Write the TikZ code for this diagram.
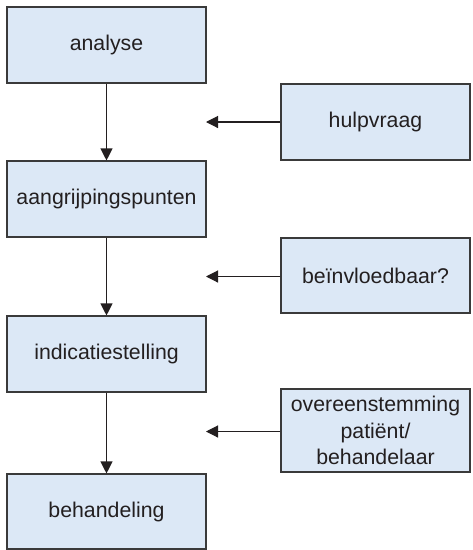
\documentclass[tikz,border=0pt]{standalone}
\usepackage{fontspec}
\setmainfont{Liberation Sans}
\usetikzlibrary{arrows.meta}
\definecolor{boxfill}{HTML}{DCE8F6}
\definecolor{boxline}{HTML}{3A3A3A}
\definecolor{txt}{HTML}{231F20}
\begin{document}
\begin{tikzpicture}[x=1pt,y=-1pt,
  box/.style={draw=boxline, fill=boxfill, line width=1.1pt, inner sep=0pt, text=txt,
    font=\fontsize{21.3}{26.5}\selectfont, align=center},
  lbox/.style={box, minimum width=199pt, minimum height=76pt},
  rbox/.style={box, minimum width=189pt, minimum height=76pt},
  conn/.style={draw=txt, line width=1.1pt, -{Triangle[length=12pt,width=12pt]}}]
\useasboundingbox (0,0) rectangle (473,550);
\node[lbox] (a) at (106.5,45) {analyse};
\node[lbox] (b) at (106.5,199) {aangrijpingspunten};
\node[lbox] (c) at (106.5,354) {indicatiestelling};
\node[lbox, minimum height=75pt] (d) at (106.5,511.5) {behandeling};
\node[rbox] (h) at (375.5,122) {hulpvraag};
\node[rbox, minimum height=75pt] (i) at (375.5,275.5) {beïnvloedbaar?};
\node[rbox, minimum height=83pt] (o) at (375.5,430.5) {overeenstemming\\patiënt/\\behandelaar};
\coordinate (th) at (206,122);
\coordinate (ti) at (206,276.5);
\coordinate (to) at (206,431.5);
\draw[conn] (a) -- (b);
\draw[conn] (b) -- (c);
\draw[conn] (c) -- (d);
\draw[conn] (h.west |- th) -- (th);
\draw[conn] (i.west |- ti) -- (ti);
\draw[conn] (o.west |- to) -- (to);
\end{tikzpicture}
\end{document}
